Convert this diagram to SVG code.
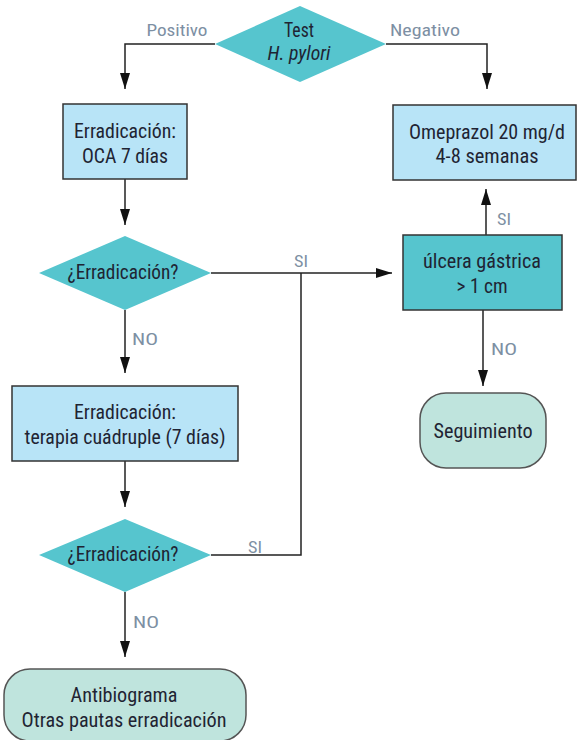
<svg xmlns="http://www.w3.org/2000/svg" width="578" height="740" viewBox="0 0 578 740">
<defs>
<style>
.t{font-family:"Roboto Condensed",Roboto,"Liberation Sans",sans-serif;font-size:20px;fill:#1f2433;text-anchor:middle}
.lb{font-family:"Roboto Condensed",Roboto,"Liberation Sans",sans-serif;font-size:17px;fill:#7d8fa3;text-anchor:middle}
.dia{fill:#56c5ce}
.box{fill:#b8e4f7;stroke:#333;stroke-width:1.5}
.tbox{fill:#56c5ce;stroke:#333;stroke-width:1.5}
.rnd{fill:#bfe4dd;stroke:#555;stroke-width:1.5}
.c{fill:none;stroke:#222;stroke-width:1.5}
</style>
<marker id="ah" viewBox="0 0 16 10" refX="16" refY="5" markerWidth="16" markerHeight="10" markerUnits="userSpaceOnUse" orient="auto">
<path d="M0,0 L16,5 L0,10 Z" fill="#111"/>
</marker>
</defs>
<g id="connectors">
<polyline class="c" points="215,44 125,44 125,89" marker-end="url(#ah)"/>
<polyline class="c" points="386,44 487,44 487,89" marker-end="url(#ah)"/>
<line class="c" x1="125" y1="179" x2="125" y2="225" marker-end="url(#ah)"/>
<line class="c" x1="211" y1="273" x2="392" y2="273" marker-end="url(#ah)"/>
<polyline class="c" points="211,555 301,555 301,273"/>
<line class="c" x1="125" y1="310" x2="125" y2="373" marker-end="url(#ah)"/>
<line class="c" x1="125" y1="461" x2="125" y2="507" marker-end="url(#ah)"/>
<line class="c" x1="125" y1="592" x2="125" y2="657" marker-end="url(#ah)"/>
<line class="c" x1="486" y1="235" x2="486" y2="189" marker-end="url(#ah)"/>
<line class="c" x1="483" y1="310" x2="483" y2="386" marker-end="url(#ah)"/>
<text class="lb" x="177" y="36" textLength="61" lengthAdjust="spacingAndGlyphs">Positivo</text>
<text class="lb" x="425" y="36" textLength="70" lengthAdjust="spacingAndGlyphs">Negativo</text>
<text class="lb" x="301" y="267" textLength="14" lengthAdjust="spacingAndGlyphs">SI</text>
<text class="lb" x="255" y="553" textLength="14" lengthAdjust="spacingAndGlyphs">SI</text>
<text class="lb" x="504" y="225" textLength="14" lengthAdjust="spacingAndGlyphs">SI</text>
<text class="lb" x="145" y="345" textLength="26" lengthAdjust="spacingAndGlyphs">NO</text>
<text class="lb" x="146" y="628" textLength="26" lengthAdjust="spacingAndGlyphs">NO</text>
<text class="lb" x="504" y="355" textLength="26" lengthAdjust="spacingAndGlyphs">NO</text>
</g>
<g id="test">
<polygon class="dia" points="300,6 386,44 300,82 215,44"/>
<text class="t" x="299" y="37" textLength="30" lengthAdjust="spacingAndGlyphs">Test</text>
<text class="t" x="299" y="60" font-style="italic" textLength="63" lengthAdjust="spacingAndGlyphs">H. pylori</text>
</g>
<g id="oca">
<rect class="box" x="63" y="104" width="124" height="75"/>
<text class="t" x="125" y="138" textLength="102" lengthAdjust="spacingAndGlyphs">Erradicación:</text>
<text class="t" x="125" y="163" textLength="86" lengthAdjust="spacingAndGlyphs">OCA 7 días</text>
</g>
<g id="erradicacion1">
<polygon class="dia" points="125,236 211,273 125,310 39,273"/>
<text class="t" x="123" y="279" textLength="111" lengthAdjust="spacingAndGlyphs">¿Erradicación?</text>
</g>
<g id="omeprazol">
<rect class="box" x="393" y="105" width="183" height="75"/>
<text class="t" x="487" y="139" textLength="156" lengthAdjust="spacingAndGlyphs">Omeprazol 20 mg/d</text>
<text class="t" x="487" y="163" textLength="103" lengthAdjust="spacingAndGlyphs">4-8 semanas</text>
</g>
<g id="ulcera">
<rect class="tbox" x="403" y="235" width="159" height="75"/>
<text class="t" x="482" y="268" textLength="118" lengthAdjust="spacingAndGlyphs">úlcera gástrica</text>
<text class="t" x="482" y="293" textLength="51" lengthAdjust="spacingAndGlyphs">&gt; 1 cm</text>
</g>
<g id="seguimiento">
<rect class="rnd" x="420" y="393" width="126" height="75" rx="26"/>
<text class="t" x="483" y="438" textLength="99" lengthAdjust="spacingAndGlyphs">Seguimiento</text>
</g>
<g id="cuadruple">
<rect class="box" x="12" y="386" width="226" height="75"/>
<text class="t" x="125" y="419" textLength="102" lengthAdjust="spacingAndGlyphs">Erradicación:</text>
<text class="t" x="125" y="444" textLength="201" lengthAdjust="spacingAndGlyphs">terapia cuádruple (7 días)</text>
</g>
<g id="erradicacion2">
<polygon class="dia" points="125,519 211,555 125,592 39,555"/>
<text class="t" x="123" y="561" textLength="111" lengthAdjust="spacingAndGlyphs">¿Erradicación?</text>
</g>
<g id="antibiograma">
<rect class="rnd" x="4" y="669" width="242" height="72" rx="26"/>
<text class="t" x="124" y="702" textLength="107" lengthAdjust="spacingAndGlyphs">Antibiograma</text>
<text class="t" x="124" y="727" textLength="205" lengthAdjust="spacingAndGlyphs">Otras pautas erradicación</text>
</g>
</svg>
